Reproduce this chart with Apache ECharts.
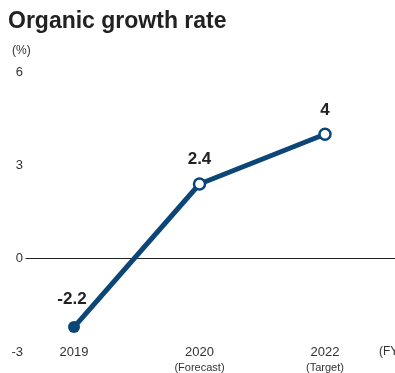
<!DOCTYPE html>
<html><head><meta charset="utf-8">
<script src="https://cdn.jsdelivr.net/npm/echarts@6/dist/echarts.min.js"></script>
<style>html,body{margin:0;padding:0;background:#fff}#c{width:395px;height:373px}</style>
</head><body><div id="c"></div>
<script>
const categories = ['2019', '2020', '2022'];
const subLabels = ['', '(Forecast)', '(Target)'];
const values = [-2.2, 2.4, 4];
const yTicks = { min: -3, max: 6, interval: 3 };

const chart = echarts.init(document.getElementById('c'));
const blue = '#0b4677';
const data = values.map((v, i) => ({
  value: v,
  symbol: 'circle',
  symbolSize: i === 0 ? 12 : 11,
  itemStyle: i === 0 ? { color: blue, borderColor: blue, borderWidth: 0 } : { color: '#fff', borderColor: blue, borderWidth: 2.5 },
  label: i === 0 ? { offset: [-2, -4] } : {}
}));
chart.setOption({
  animation: false,
  title: [
    { text: 'Organic growth rate', left: 3, top: 5, textStyle: { fontFamily: 'Liberation Sans', fontWeight: 'bold', fontSize: 23, color: '#222' } },
    { text: '(%)', left: 7, top: 40, textStyle: { fontFamily: 'Liberation Sans', fontWeight: 'normal', fontSize: 12, color: '#333' } }
  ],
  grid: [
    { left: 74, right: 70, top: 72, bottom: 21, outerBoundsMode: 'none', containLabel: false },
    { left: 26, right: 0, top: 72, bottom: 21, outerBoundsMode: 'none', containLabel: false }
  ],
  xAxis: [
    {
      type: 'category', data: categories, boundaryGap: false, gridIndex: 0, position: 'bottom',
      axisLine: { show: false, onZero: false }, axisTick: { show: false },
      name: '(FY)', nameLocation: 'end', nameGap: 54,
      nameTextStyle: { fontFamily: 'Liberation Sans Narrow, Liberation Sans', fontSize: 12, color: '#333', verticalAlign: 'middle' },
      axisLabel: {
        margin: -7, interval: 0,
        formatter: (v, i) => subLabels[i] ? v + '\n{s|' + subLabels[i] + '}' : v,
        fontFamily: 'Liberation Sans', fontSize: 13, color: '#333', lineHeight: 15,
        rich: { s: { fontSize: 11, color: '#333', lineHeight: 16, fontFamily: 'Liberation Sans' } }
      }
    },
    {
      type: 'value', gridIndex: 1, min: 0, max: 1,
      axisLine: { show: true, onZero: true, lineStyle: { color: '#222', width: 1 } },
      axisTick: { show: false }, axisLabel: { show: false }, splitLine: { show: false }
    }
  ],
  yAxis: [
    {
      type: 'value', gridIndex: 0, min: yTicks.min, max: yTicks.max, interval: yTicks.interval,
      axisLine: { show: false }, axisTick: { show: false }, splitLine: { show: false },
      axisLabel: { margin: 51, fontFamily: 'Liberation Sans', fontSize: 13, color: '#333' }
    },
    {
      type: 'value', gridIndex: 1, min: yTicks.min, max: yTicks.max, interval: yTicks.interval,
      axisLine: { show: false }, axisTick: { show: false }, splitLine: { show: false }, axisLabel: { show: false }
    }
  ],
  series: [{
    type: 'line', xAxisIndex: 0, yAxisIndex: 0, data: data,
    lineStyle: { color: blue, width: 5 },
    z: 5,
    label: { show: true, position: 'top', distance: 9, fontFamily: 'Liberation Sans', fontWeight: 'bold', fontSize: 17, color: '#222' }
  }]
});
</script></body></html>
